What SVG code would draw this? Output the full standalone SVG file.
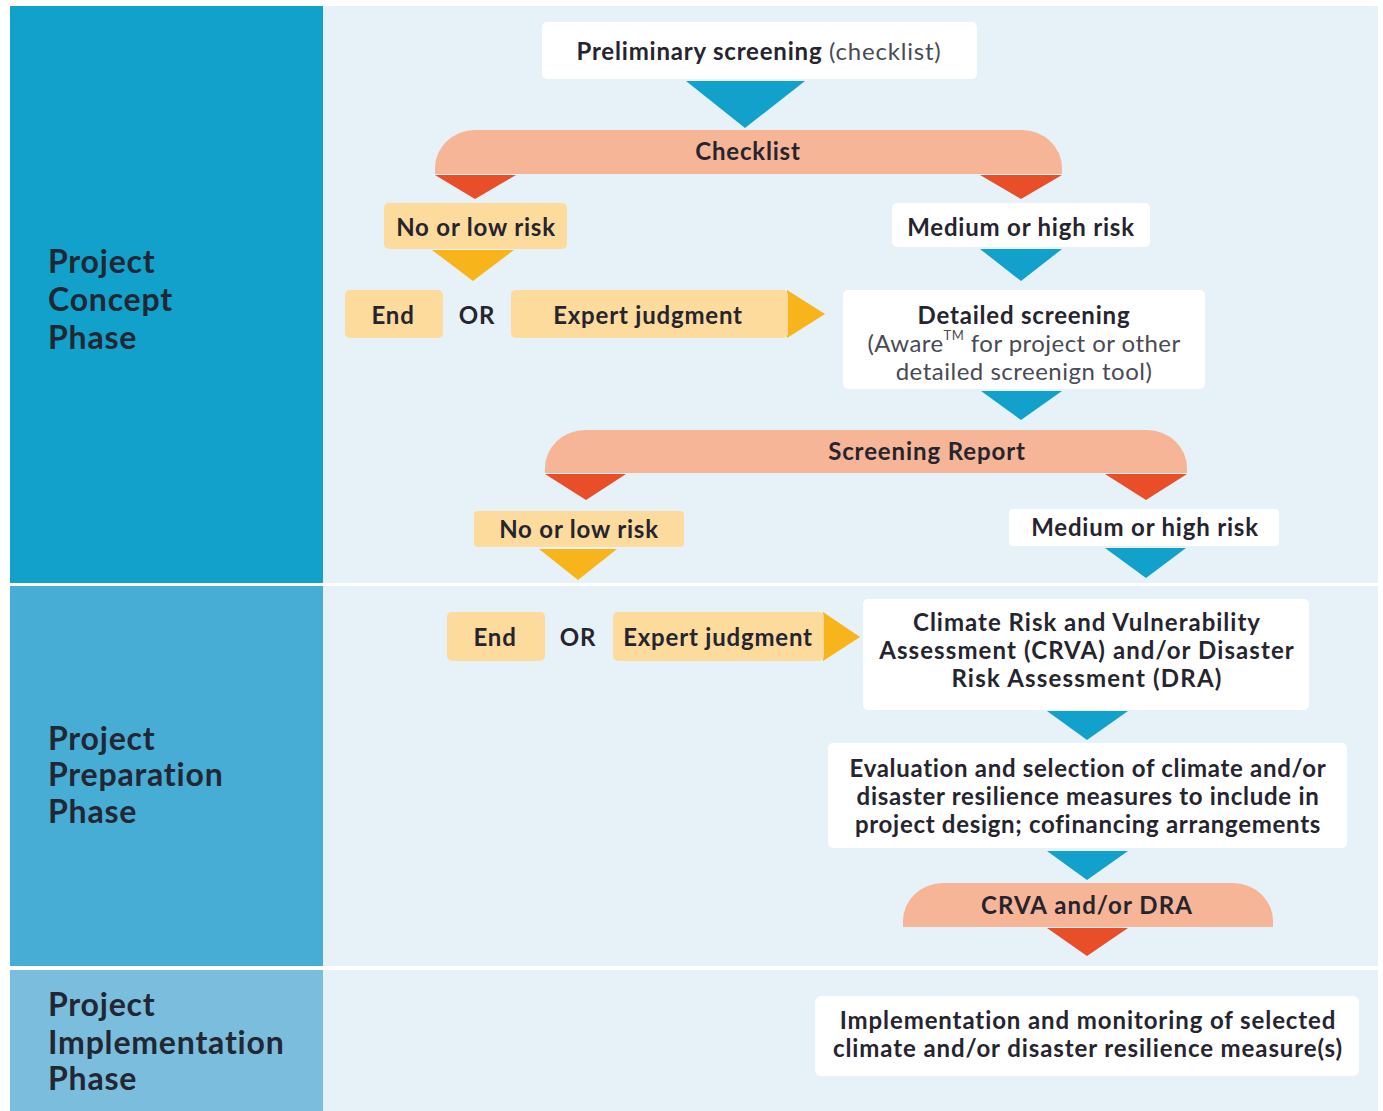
<svg xmlns="http://www.w3.org/2000/svg" width="1383" height="1111" viewBox="0 0 1383 1111">
<defs>
<style>
.t{font-family:Lato,"Open Sans","Liberation Sans",sans-serif;font-weight:700;font-size:24px;letter-spacing:0.8px;fill:#26242f;text-anchor:middle;dominant-baseline:central}
.r{font-weight:400;fill:#4a4a55}
.ph{font-family:Lato,"Open Sans","Liberation Sans",sans-serif;font-weight:700;font-size:32px;letter-spacing:0.8px;fill:#222733}
.w{fill:#ffffff}
.o{fill:#FDDB9C}
.s{fill:#F5B596}
.blue{fill:#12A1CB}
.red{fill:#E84E27}
.org{fill:#F8B41B}
</style>
</defs>
<rect x="0" y="0" width="1383" height="1111" fill="#ffffff"/>
<g id="panels">
<rect x="10" y="6" width="313" height="577" fill="#12A1CB"/>
<rect x="10" y="586" width="313" height="380" fill="#47ADD5"/>
<rect x="10" y="970" width="313" height="141" fill="#7BBDDD"/>
<rect x="323" y="6" width="1055" height="577" fill="#E6F1F8"/>
<rect x="323" y="586" width="1055" height="380" fill="#E6F1F8"/>
<rect x="323" y="970" width="1055" height="141" fill="#E6F1F8"/>
</g>
<g id="phase-concept"><text class="ph" x="48" y="273">Project</text><text class="ph" x="48" y="311">Concept</text><text class="ph" x="48" y="349">Phase</text></g>
<g id="phase-preparation"><text class="ph" x="48" y="750">Project</text><text class="ph" x="48" y="786">Preparation</text><text class="ph" x="48" y="823">Phase</text></g>
<g id="phase-implementation"><text class="ph" x="48" y="1016">Project</text><text class="ph" x="48" y="1054">Implementation</text><text class="ph" x="48" y="1090">Phase</text></g>

<g id="connectors">
<polygon class="blue" points="686,81 805,81 745,128"/>
<polygon class="red" points="435,175 516,175 475,199"/>
<polygon class="red" points="980,175 1062,175 1021,199"/>
<polygon class="org" points="432,250 514,250 473,281"/>
<polygon class="org" points="787,290 825,314 787,338"/>
<polygon class="blue" points="980,249 1062,249 1021,281"/>
<polygon class="blue" points="981,391 1062,391 1021,420"/>
<polygon class="red" points="545,474 626,474 586,500"/>
<polygon class="red" points="1105,474 1187,474 1146,500"/>
<polygon class="org" points="539,549 617,549 578,580"/>
<polygon class="blue" points="1105,548 1186,548 1146,578"/>
<polygon class="org" points="823,612 860,637 823,661"/>
<polygon class="blue" points="1047,711 1128,711 1087,740"/>
<polygon class="blue" points="1047,851 1128,851 1087,880"/>
<polygon class="red" points="1047,928 1128,928 1087,956"/>
</g>

<g id="preliminary">
<rect class="w" x="542" y="22" width="435" height="57" rx="5"/>
<text class="t" x="759" y="50">Preliminary screening <tspan class="r">(checklist)</tspan></text>
</g>
<g id="checklist">
<path class="s" d="M435,174 V168 A40,38 0 0 1 475,130 H1022 A40,38 0 0 1 1062,168 V174 Z"/>
<text class="t" x="748" y="150">Checklist</text>
</g>
<g id="low-risk-1">
<rect class="o" x="384" y="203" width="183" height="46" rx="5"/>
<text class="t" x="476" y="226">No or low risk</text>
</g>
<g id="end-1">
<rect class="o" x="345" y="290" width="98" height="48" rx="5"/>
<text class="t" x="393" y="314">End</text>
</g>
<g id="or-1"><text class="t" x="477" y="314">OR</text></g>
<g id="expert-1">
<rect class="o" x="511" y="290" width="277" height="48" rx="5"/>
<text class="t" x="648" y="314">Expert judgment</text>
</g>
<g id="high-risk-1">
<rect class="w" x="892" y="203" width="258" height="44" rx="5"/>
<text class="t" x="1021" y="226">Medium or high risk</text>
</g>
<g id="detailed">
<rect class="w" x="843" y="290" width="362" height="99" rx="5"/>
<text class="t" x="1024" y="314">Detailed screening</text>
<text class="t r" x="1024" y="342" style="letter-spacing:0.45px">(Aware<tspan font-size="13" dy="-7">TM</tspan><tspan dy="7"> for project or other</tspan></text>
<text class="t r" x="1024" y="370" style="letter-spacing:0.5px">detailed screenign tool)</text>
</g>
<g id="screening-report">
<path class="s" d="M545,473 V468 A40,38 0 0 1 585,430 H1147 A40,38 0 0 1 1187,468 V473 Z"/>
<text class="t" x="927" y="450" style="letter-spacing:0.9px">Screening Report</text>
</g>
<g id="low-risk-2">
<rect class="o" x="474" y="511" width="210" height="36" rx="4"/>
<text class="t" x="579" y="528">No or low risk</text>
</g>
<g id="high-risk-2">
<rect class="w" x="1009" y="509" width="270" height="37" rx="4"/>
<text class="t" x="1145" y="526">Medium or high risk</text>
</g>
<g id="end-2">
<rect class="o" x="447" y="612" width="98" height="49" rx="5"/>
<text class="t" x="495" y="636">End</text>
</g>
<g id="or-2"><text class="t" x="578" y="636">OR</text></g>
<g id="expert-2">
<rect class="o" x="613" y="612" width="211" height="49" rx="5"/>
<text class="t" x="718" y="636">Expert judgment</text>
</g>
<g id="crva">
<rect class="w" x="863" y="599" width="446" height="111" rx="5"/>
<text class="t" x="1087" y="621" style="letter-spacing:1px">Climate Risk and Vulnerability</text>
<text class="t" x="1087" y="649" style="letter-spacing:1.1px">Assessment (CRVA) and/or Disaster</text>
<text class="t" x="1087" y="677" style="letter-spacing:1.2px">Risk Assessment (DRA)</text>
</g>
<g id="evaluation">
<rect class="w" x="828" y="743" width="519" height="105" rx="5"/>
<text class="t" x="1088" y="767" style="letter-spacing:0.7px">Evaluation and selection of climate and/or</text>
<text class="t" x="1088" y="795" style="letter-spacing:0.7px">disaster resilience measures to include in</text>
<text class="t" x="1088" y="823" style="letter-spacing:0.7px">project design; cofinancing arrangements</text>
</g>
<g id="crva-dra">
<path class="s" d="M903,927 V921 A40,38 0 0 1 943,883 H1233 A40,38 0 0 1 1273,921 V927 Z"/>
<text class="t" x="1087" y="904" style="letter-spacing:1.1px">CRVA and/or DRA</text>
</g>
<g id="implementation">
<rect class="w" x="815" y="996" width="544" height="80" rx="6"/>
<text class="t" x="1088" y="1019" style="letter-spacing:0.9px">Implementation and monitoring of selected</text>
<text class="t" x="1088" y="1047" style="letter-spacing:0.9px">climate and/or disaster resilience measure(s)</text>
</g>
</svg>
